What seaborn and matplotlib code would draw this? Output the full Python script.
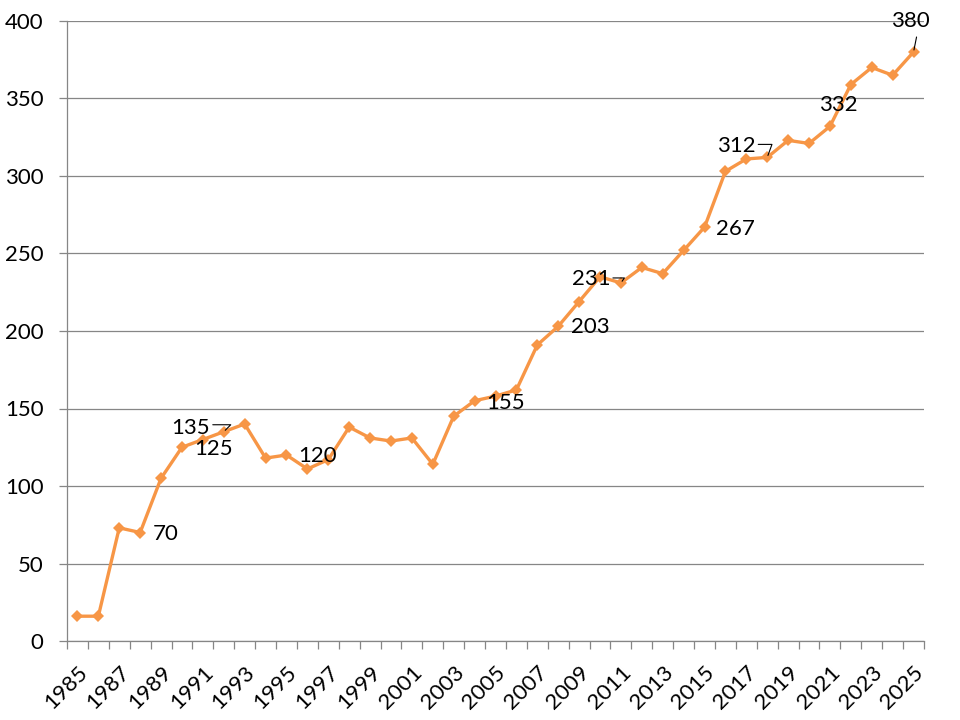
import matplotlib
matplotlib.use("Agg")
import matplotlib.pyplot as plt
import seaborn as sns
import pandas as pd
from matplotlib.ticker import FixedLocator

years = list(range(1985, 2026))
values = [16, 16, 73, 70, 105, 125, 130, 135, 140, 118,
          120, 111, 117, 138, 131, 129, 131, 114, 145, 155,
          158, 162, 191, 203, 219, 235, 231, 241, 237, 252,
          267, 303, 311, 312, 323, 321, 332, 359, 370, 365,
          380]
y_ticks = [0, 50, 100, 150, 200, 250, 300, 350, 400]
x_tick_labels = [str(y) for y in range(1985, 2026, 2)]
labeled_years = [1988, 1990, 1992, 1995, 2004, 2008, 2011, 2015, 2018, 2021, 2025]

df = pd.DataFrame({"year": years, "value": values})

sns.set_theme(style="white")
plt.rcParams['font.family'] = ['Lato', 'DejaVu Sans']

FS = 16

fig = plt.figure(figsize=(9.6, 7.2), dpi=100)
ax = fig.add_axes([67 / 960, 1 - 641 / 720, (924 - 67) / 960, (641 - 21) / 720])

sns.lineplot(data=df, x="year", y="value", ax=ax, color="#F79646", linewidth=2.4,
             marker="D", markersize=6, markeredgewidth=0, zorder=3)

ax.set_xlim(1984.5, 2025.5)
ax.set_ylim(0, 400)
ax.set_xlabel("")
ax.set_ylabel("")

ax.yaxis.set_major_locator(FixedLocator(y_ticks))
ax.yaxis.grid(True, color="#868686", linewidth=0.9)
ax.set_axisbelow(True)

ax.xaxis.set_major_locator(FixedLocator(list(range(1985, 2026, 2))))
ax.set_xticklabels(x_tick_labels, rotation=45, ha="right", va="top",
                   rotation_mode="anchor")
ax.xaxis.set_minor_locator(FixedLocator([y + 0.5 for y in range(1984, 2026)]))
ax.tick_params(axis="x", which="major", length=0, labelsize=FS, pad=15, colors="black")
ax.tick_params(axis="x", which="minor", length=6, width=0.9, color="#868686", bottom=True)
ax.tick_params(axis="y", which="major", length=6, width=0.9, color="#868686",
               labelsize=FS, pad=11, left=True, labelcolor="black")

for s in ["top", "right"]:
    ax.spines[s].set_visible(False)
for s in ["left", "bottom"]:
    ax.spines[s].set_color("#868686")
    ax.spines[s].set_linewidth(0.9)

offsets = {
    1988: (26, -1), 1990: (32, -2), 1992: (-33, 4), 1995: (31, -1),
    2004: (31, -2), 2008: (32, -1), 2011: (-30, 4), 2015: (31, -2),
    2018: (-31, 11), 2021: (8, 21), 2025: (-3, 31),
}
for yr in labeled_years:
    v = values[years.index(yr)]
    dx, dy = offsets[yr]
    ax.annotate(str(v), xy=(yr, v), xytext=(dx, dy), textcoords="offset pixels",
                ha="center", va="center", fontsize=FS, color="black", zorder=4)

# small leader lines from labels to their points
leaders = {
    1992: ((-11, 7), "angle,angleA=0,angleB=45,rad=0"),
    2011: ((-8, 5), "angle,angleA=0,angleB=55,rad=0"),
    2018: ((-9, 13), "angle,angleA=0,angleB=70,rad=0"),
    2025: ((3, 15), "arc3,rad=0"),
}
for yr, (start, cs) in leaders.items():
    v = values[years.index(yr)]
    ax.annotate("", xy=(yr, v), xytext=start, textcoords="offset pixels",
                arrowprops=dict(arrowstyle="-", color="black", linewidth=0.8,
                                connectionstyle=cs, shrinkA=0, shrinkB=1.5))

fig.savefig("out.png", dpi=100)
